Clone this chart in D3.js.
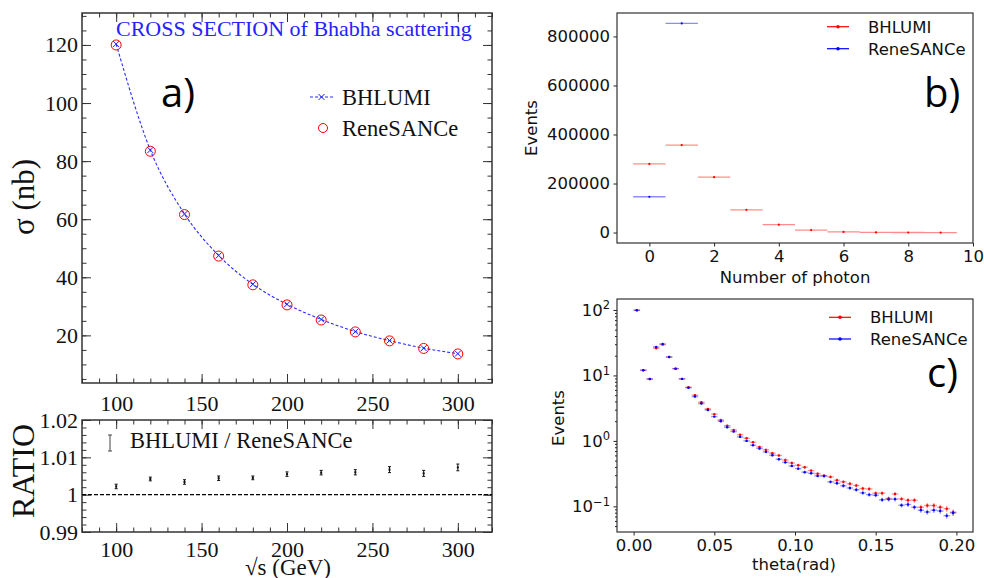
<!DOCTYPE html>
<html>
<head>
<meta charset="utf-8">
<title>Bhabha scattering</title>
<script src="https://d3js.org/d3.v7.min.js"></script>
<style>
    body { margin: 0; background: white; }
    .root text { font-family: 'Liberation Serif', 'Times New Roman', serif; fill: #111; }
    .mpl text { font-family: 'DejaVu Sans', sans-serif; fill: #111; }
    .tag { font-family: 'Open Sans', sans-serif; fill: #000; }
</style>
</head>
<body>
<svg id="canvas" width="984" height="578"></svg>
<script>
// ---- panel a: cross section vs sqrt(s) ----
const energies = [100, 120, 140, 160, 180, 200, 220, 240, 260, 280, 300]
const sigmaBhlumi = [120.3, 83.8, 61.8, 47.5, 37.6, 30.7, 25.5, 21.3, 18.2, 15.6, 13.7]
const sigmaRene = [120.0, 83.4, 61.6, 47.3, 37.4, 30.5, 25.3, 21.2, 18.1, 15.5, 13.6]
const ratio = [1.0022, 1.0042, 1.0034, 1.0044, 1.0045, 1.0055, 1.0059, 1.006, 1.0067, 1.0057, 1.0073]
const ratioErr = [0.0006, 0.0005, 0.0006, 0.0006, 0.0005, 0.0006, 0.0006, 0.0007, 0.0008, 0.0008, 0.0009]

// ---- panel b: photon multiplicity ----
const photons = [0, 1, 2, 3, 4, 5, 6, 7, 8, 9]
const photBhlumi = [280000, 357000, 226000, 92500, 32000, 10000, 2500, 600, 120, 20]
const photReneN = [0, 1]
const photRene = [146000, 853000]

// ---- panel c: theta distribution ----
const theta = [0.002, 0.006, 0.010, 0.014, 0.018, 0.022, 0.026, 0.030, 0.034, 0.038,
               0.042, 0.046, 0.050, 0.054, 0.058, 0.062, 0.066, 0.070, 0.074, 0.078,
               0.082, 0.086, 0.090, 0.094, 0.098, 0.102, 0.106, 0.110, 0.114, 0.118,
               0.122, 0.126, 0.130, 0.134, 0.138, 0.142, 0.146, 0.150, 0.154, 0.158,
               0.162, 0.166, 0.170, 0.174, 0.178, 0.182, 0.186, 0.190, 0.194, 0.198]
const thetaBhlumi = [99, 12.0, 8.8, 26.0, 29.5, 19.1, 12.7, 8.85, 6.6, 4.99,
                     3.9, 3.08, 2.56, 2.09, 1.71, 1.47, 1.24, 1.10, 0.955, 0.81,
                     0.73, 0.65, 0.60, 0.51, 0.46, 0.425, 0.396, 0.352, 0.316, 0.295,
                     0.282, 0.251, 0.237, 0.221, 0.208, 0.187, 0.185, 0.159, 0.159, 0.132,
                     0.155, 0.130, 0.124, 0.124, 0.097, 0.103, 0.103, 0.097, 0.092, 0.0815]
const thetaRene = [99, 12.0, 8.8, 27.2, 30.3, 19.1, 12.7, 8.85, 6.5, 4.75,
                   3.72, 2.97, 2.35, 2.0, 1.62, 1.39, 1.15, 1.0, 0.86, 0.765,
                   0.68, 0.605, 0.525, 0.47, 0.415, 0.377, 0.333, 0.321, 0.292, 0.29,
                   0.237, 0.226, 0.206, 0.191, 0.179, 0.161, 0.151, 0.148, 0.126, 0.128,
                   0.129, 0.104, 0.107, 0.097, 0.0875, 0.082, 0.0875, 0.085, 0.072, 0.0795]
// relative vertical errors (roughly)
const thetaRelErr = [0.01, 0.02, 0.02, 0.015, 0.015, 0.02, 0.02, 0.025, 0.025, 0.03,
                     0.03, 0.03, 0.03, 0.035, 0.035, 0.035, 0.04, 0.04, 0.04, 0.04,
                     0.045, 0.045, 0.045, 0.05, 0.05, 0.05, 0.055, 0.055, 0.055, 0.06,
                     0.06, 0.06, 0.065, 0.065, 0.065, 0.07, 0.07, 0.07, 0.075, 0.075,
                     0.08, 0.08, 0.085, 0.085, 0.09, 0.09, 0.095, 0.095, 0.1, 0.1]

const red = '#ff0000'
const blue = '#0000ff'
const frameColor = '#333'

const svg = d3.select('#canvas')

// ROOT style: ticks pointing inside on all four sides
const rootTicks = (g, x, y, xMaj, xMin, yMaj, yMin) => {
    const [x0, x1] = x.range()
    const [y0, y1] = y.range()
    const h = y0 - y1, w = x1 - x0
    const cleanup = s => { s.select('.domain').remove(); s.selectAll('line').attr('stroke', frameColor) }
    g.append('g').attr('transform', `translate(0,${y0})`)
        .call(d3.axisBottom(x).tickValues(xMin).tickSize(-4.5).tickFormat('')).call(cleanup)
    g.append('g').attr('transform', `translate(0,${y0})`)
        .call(d3.axisBottom(x).tickValues(xMaj).tickSize(-9).tickFormat('')).call(cleanup)
    g.append('g').attr('transform', `translate(0,${y1})`)
        .call(d3.axisTop(x).tickValues(xMin).tickSize(-4.5).tickFormat('')).call(cleanup)
    g.append('g').attr('transform', `translate(0,${y1})`)
        .call(d3.axisTop(x).tickValues(xMaj).tickSize(-9).tickFormat('')).call(cleanup)
    g.append('g').attr('transform', `translate(${x0},0)`)
        .call(d3.axisLeft(y).tickValues(yMin).tickSize(-4.5).tickFormat('')).call(cleanup)
    g.append('g').attr('transform', `translate(${x0},0)`)
        .call(d3.axisLeft(y).tickValues(yMaj).tickSize(-9).tickFormat('')).call(cleanup)
    g.append('g').attr('transform', `translate(${x1},0)`)
        .call(d3.axisRight(y).tickValues(yMin).tickSize(-4.5).tickFormat('')).call(cleanup)
    g.append('g').attr('transform', `translate(${x1},0)`)
        .call(d3.axisRight(y).tickValues(yMaj).tickSize(-9).tickFormat('')).call(cleanup)
    g.append('rect').attr('x', x0).attr('y', y1).attr('width', w).attr('height', h)
        .attr('fill', 'none').attr('stroke', frameColor).attr('stroke-width', 1.5)
}

const rootLabels = (s, size) => {
    s.select('.domain').remove()
    s.selectAll('line').remove()
    s.selectAll('text').attr('font-size', size).attr('font-family', null).attr('fill', '#111')
}

// ================= panel a =================
const ga = svg.append('g').attr('class', 'root')
const xa = d3.scaleLinear().domain([80, 320]).range([82, 492])
const ya = d3.scaleLinear().domain([3.6, 131]).range([383, 13])
const xMajA = [100, 150, 200, 250, 300]
const xMinA = d3.range(80, 321, 10)

rootTicks(ga, xa, ya, xMajA, xMinA, [20, 40, 60, 80, 100, 120], d3.range(5, 131, 5))

ga.append('g').attr('transform', 'translate(0,383)')
    .call(d3.axisBottom(xa).tickValues(xMajA).tickPadding(6)).call(s => rootLabels(s, 22))
ga.append('g').attr('transform', 'translate(82,0)')
    .call(d3.axisLeft(ya).tickValues([20, 40, 60, 80, 100, 120]).tickPadding(4).tickSize(0))
    .call(s => rootLabels(s, 22))

const curve = d3.line().x((d, i) => xa(energies[i])).y(d => ya(d)).curve(d3.curveMonotoneX)
ga.append('path').attr('d', curve(sigmaBhlumi))
    .attr('fill', 'none').attr('stroke', '#2a2aff').attr('stroke-width', 1.1).attr('stroke-dasharray', '3,2')

ga.selectAll('circle.rene').data(sigmaRene).enter().append('circle')
    .attr('cx', (d, i) => xa(energies[i])).attr('cy', d => ya(d)).attr('r', 5)
    .attr('fill', 'none').attr('stroke', red).attr('stroke-width', 1)

const cross = (sel, cx, cy, r, col) => {
    sel.append('path').attr('d', `M${cx - r},${cy - r}L${cx + r},${cy + r}M${cx - r},${cy + r}L${cx + r},${cy - r}`)
        .attr('stroke', col).attr('stroke-width', 1)
}
sigmaBhlumi.forEach((d, i) => cross(ga, xa(energies[i]), ya(d), 3, '#1a1aff'))

ga.append('text').text('CROSS SECTION of Bhabha scattering')
    .attr('x', 116).attr('y', 36).attr('font-size', 22).style('fill', '#2323ff')

// legend
ga.append('line').attr('x1', 310).attr('x2', 333).attr('y1', 97).attr('y2', 97)
    .attr('stroke', '#2a2aff').attr('stroke-dasharray', '3,2')
cross(ga, 321.5, 97, 3, '#1a1aff')
ga.append('text').text('BHLUMI').attr('x', 342).attr('y', 105).attr('font-size', 22.5)
ga.append('circle').attr('cx', 323).attr('cy', 128).attr('r', 4.5)
    .attr('fill', 'none').attr('stroke', red)
ga.append('text').text('ReneSANCe').attr('x', 342).attr('y', 136).attr('font-size', 22.5)

ga.append('text').text('σ (nb)').attr('font-size', 31)
    .attr('transform', 'translate(34,197) rotate(-90)').attr('text-anchor', 'middle')

// ratio pad
const yr = d3.scaleLinear().domain([0.99, 1.02]).range([532, 420])
const xr = xa.copy()
rootTicks(ga, xr, yr, xMajA, xMinA, [0.99, 1.0, 1.01, 1.02], d3.range(0.99, 1.0201, 0.002))
ga.append('g').attr('transform', 'translate(0,532)')
    .call(d3.axisBottom(xr).tickValues(xMajA).tickPadding(3)).call(s => rootLabels(s, 22))
ga.append('g').attr('transform', 'translate(82,0)')
    .call(d3.axisLeft(yr).tickValues([0.99, 1.0, 1.01, 1.02]).tickPadding(4).tickSize(0)
        .tickFormat(d => d === 1 ? '1' : d3.format('.2f')(d)))
    .call(s => rootLabels(s, 22))

ga.append('line').attr('x1', 82).attr('x2', 492).attr('y1', yr(1)).attr('y2', yr(1))
    .attr('stroke', '#000').attr('stroke-width', 1.4).attr('stroke-dasharray', '4,2')

ratio.forEach((r, i) => {
    const cx = xr(energies[i])
    const top = yr(r + ratioErr[i]), bot = yr(r - ratioErr[i])
    ga.append('path').attr('d', `M${cx},${top}V${bot}M${cx - 1.5},${top}H${cx + 1.5}M${cx - 1.5},${bot}H${cx + 1.5}`)
        .attr('stroke', '#111').attr('stroke-width', 1)
    ga.append('rect').attr('x', cx - 1).attr('y', yr(r) - 1).attr('width', 2).attr('height', 2).attr('fill', '#111')
})

ga.append('path').attr('d', 'M110,435V451M108,435H112M108,451H112')
    .attr('stroke', '#444').attr('stroke-width', 1)
ga.append('text').text('BHLUMI / ReneSANCe').attr('x', 130).attr('y', 448).attr('font-size', 22.5)

ga.append('text').text('RATIO').attr('font-size', 32)
    .attr('transform', 'translate(34,471) rotate(-90)').attr('text-anchor', 'middle')
ga.append('text').text('√s (GeV)').attr('font-size', 23)
    .attr('x', 288).attr('y', 575).attr('text-anchor', 'middle')

svg.append('text').attr('class', 'tag').text('a)').attr('x', 161).attr('y', 107).attr('font-size', 40)

// ================= matplotlib-like helpers =================
const mplAxis = (s, size) => {
    s.select('.domain').remove()
    s.selectAll('line').attr('stroke', '#222').attr('stroke-width', 1)
    s.selectAll('text').attr('font-size', size).attr('font-family', null).attr('fill', '#111')
}
const mplFrame = (g, x, y) => {
    const [x0, x1] = x.range(), [y0, y1] = y.range()
    g.append('rect').attr('x', x0).attr('y', y1).attr('width', x1 - x0).attr('height', y0 - y1)
        .attr('fill', 'none').attr('stroke', '#333').attr('stroke-width', 1.2)
}
const legendRow = (g, x, y, label, col) => {
    g.append('line').attr('x1', x).attr('x2', x + 22).attr('y1', y).attr('y2', y)
        .attr('stroke', col).attr('stroke-width', 1.2)
    g.append('circle').attr('cx', x + 11).attr('cy', y).attr('r', 1.8).attr('fill', col)
    g.append('text').text(label).attr('x', x + 41).attr('y', y + 6).attr('font-size', 16.5)
}

// ================= panel b =================
const gb = svg.append('g').attr('class', 'mpl')
const xb = d3.scaleLinear().domain([-1, 10]).range([617, 973])
const yb = d3.scaleLinear().domain([-42650, 895650]).range([243, 13])

gb.append('g').attr('transform', 'translate(0,243)')
    .call(d3.axisBottom(xb).tickValues([0, 2, 4, 6, 8, 10]).tickSize(3.5).tickPadding(3.5))
    .call(s => mplAxis(s, 16.5))
gb.append('g').attr('transform', 'translate(617,0)')
    .call(d3.axisLeft(yb).tickValues([0, 200000, 400000, 600000, 800000]).tickSize(3.5).tickPadding(3.5)
        .tickFormat(d3.format('d')))
    .call(s => mplAxis(s, 16.5))

const histBars = (g, xs, ys, col) => {
    ys.forEach((v, i) => {
        g.append('line').attr('x1', xb(xs[i] - 0.5)).attr('x2', xb(xs[i] + 0.5))
            .attr('y1', yb(v)).attr('y2', yb(v))
            .attr('stroke', col).attr('stroke-width', 1.3).attr('stroke-opacity', 0.45)
        g.append('circle').attr('cx', xb(xs[i])).attr('cy', yb(v)).attr('r', 1.1).attr('fill', col)
    })
}
histBars(gb, photons, photBhlumi, red)
histBars(gb, photReneN, photRene, blue)
mplFrame(gb, xb, yb)

legendRow(gb, 827, 26.7, 'BHLUMI', red)
legendRow(gb, 827, 48.7, 'ReneSANCe', blue)

gb.append('text').text('Events').attr('font-size', 16.5).attr('text-anchor', 'middle')
    .attr('transform', 'translate(537,128) rotate(-90)')
gb.append('text').text('Number of photon').attr('font-size', 16.5).attr('text-anchor', 'middle')
    .attr('x', 795).attr('y', 283)
svg.append('text').attr('class', 'tag').text('b)').attr('x', 924).attr('y', 107).attr('font-size', 40)

// ================= panel c =================
const gc = svg.append('g').attr('class', 'mpl')
const xc = d3.scaleLinear().domain([-0.0103, 0.2103]).range([617, 973])
const yc = d3.scaleLog().domain([0.0406, 147]).range([532, 299])

gc.append('g').attr('transform', 'translate(0,532)')
    .call(d3.axisBottom(xc).tickValues([0, 0.05, 0.1, 0.15, 0.2]).tickSize(3.5).tickPadding(3.5)
        .tickFormat(d3.format('.2f')))
    .call(s => mplAxis(s, 16.5))

const minorLog = []
;[0.01, 0.1, 1, 10, 100].forEach(dec => {
    for (let m = 2; m <= 9; m++) {
        const v = dec * m
        if (v > 0.0406 && v < 147) minorLog.push(v)
    }
})
gc.append('g').attr('transform', 'translate(617,0)')
    .call(d3.axisLeft(yc).tickValues(minorLog).tickSize(2).tickFormat(''))
    .call(s => mplAxis(s, 16.5))
const majorExp = [-1, 0, 1, 2]
const yAxisC = gc.append('g').attr('transform', 'translate(617,0)')
    .call(d3.axisLeft(yc).tickValues(majorExp.map(e => Math.pow(10, e))).tickSize(3.5).tickPadding(3.5)
        .tickFormat(''))
    .call(s => mplAxis(s, 16.5))
yAxisC.selectAll('.tick text').each(function (d) {
    const t = d3.select(this)
    const e = Math.round(Math.log10(d))
    t.append('tspan').text('10')
    t.append('tspan').text(e < 0 ? '\u2212' + (-e) : e).attr('font-size', 11.5).attr('dy', '-0.55em')
})

const thetaPoints = (g, ys, col) => {
    ys.forEach((v, i) => {
        const cx = xc(theta[i]), cy = yc(v)
        g.append('line').attr('x1', xc(theta[i] - 0.002)).attr('x2', xc(theta[i] + 0.002))
            .attr('y1', cy).attr('y2', cy)
            .attr('stroke', col).attr('stroke-width', 1.4).attr('stroke-opacity', 0.4)
        g.append('line').attr('x1', cx).attr('x2', cx)
            .attr('y1', yc(v * (1 + thetaRelErr[i]))).attr('y2', yc(v * (1 - thetaRelErr[i])))
            .attr('stroke', col).attr('stroke-width', 1.4).attr('stroke-opacity', 0.4)
        g.append('circle').attr('cx', cx).attr('cy', cy).attr('r', 1.2).attr('fill', col)
    })
}
thetaPoints(gc, thetaBhlumi, red)
thetaPoints(gc, thetaRene, blue)
mplFrame(gc, xc, yc)

legendRow(gc, 829, 317.3, 'BHLUMI', red)
legendRow(gc, 829, 339, 'ReneSANCe', blue)

gc.append('text').text('Events').attr('font-size', 16.5).attr('text-anchor', 'middle')
    .attr('transform', 'translate(564,418) rotate(-90)')
gc.append('text').text('theta(rad)').attr('font-size', 16.5).attr('text-anchor', 'middle')
    .attr('x', 794).attr('y', 570)
svg.append('text').attr('class', 'tag').text('c)').attr('x', 927).attr('y', 387).attr('font-size', 40)
</script>
</body>
</html>
